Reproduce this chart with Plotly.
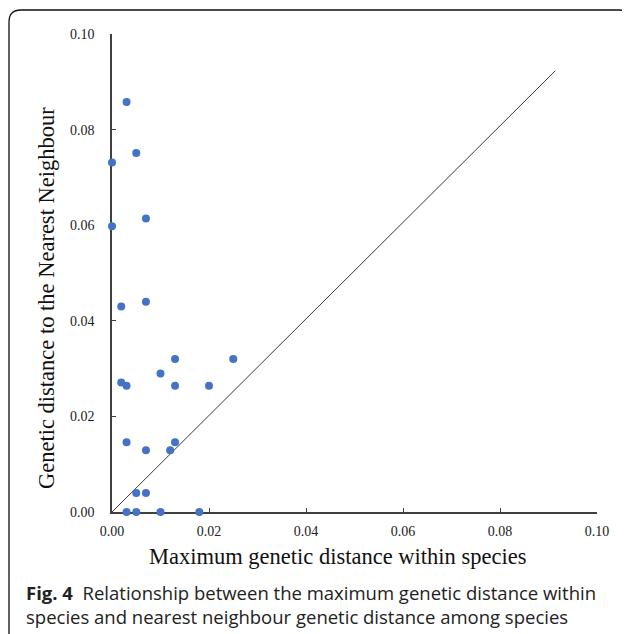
import plotly.graph_objects as go

# Data
max_within = [0.0030, 0.0050, 0.0000, 0.0070, 0.0000, 0.0019, 0.0070,
              0.0019, 0.0030, 0.0100, 0.0130, 0.0130, 0.0200, 0.0250,
              0.0030, 0.0070, 0.0120, 0.0130, 0.0050, 0.0070,
              0.0030, 0.0050, 0.0100, 0.0180]
nearest_nb = [0.0858, 0.0751, 0.0731, 0.0614, 0.0598, 0.0430, 0.0440,
              0.0271, 0.0264, 0.0290, 0.0320, 0.0264, 0.0264, 0.0320,
              0.0146, 0.0129, 0.0129, 0.0146, 0.0040, 0.0040,
              0.0000, 0.0000, 0.0000, 0.0000]
diag_x = [0.0, 0.0914]
diag_y = [0.0, 0.0923]
tick_vals = [0.00, 0.02, 0.04, 0.06, 0.08, 0.10]
tick_text = ["0.00", "0.02", "0.04", "0.06", "0.08", "0.10"]

# page body has an 8px margin; figure is sized so the plot area lands
# at page x 112..597, y 34..512
OFF = 8
W, H = 622, 626
L, T = 112 - OFF, 34 - OFF
PW, PH = 485, 478
R = W - L - PW
B = H - T - PH


def px(x):  # page pixel -> paper
    return (x - 112) / PW


def py(y):
    return (512 - y) / PH


fig = go.Figure()
fig.add_trace(go.Scatter(x=diag_x, y=diag_y, mode="lines",
                         line=dict(color="#3a3a3a", width=1),
                         hoverinfo="skip", showlegend=False, cliponaxis=False))
fig.add_trace(go.Scatter(x=max_within, y=nearest_nb, mode="markers",
                         marker=dict(color="#4472C4", size=8),
                         showlegend=False, cliponaxis=False))

axis_common = dict(
    range=[0, 0.1], tickvals=tick_vals, ticktext=tick_text,
    showgrid=False, zeroline=False, showline=True,
    linecolor="#404040", linewidth=1.5,
    ticks="inside", ticklen=4, tickwidth=1.2, tickcolor="#404040",
    tickfont=dict(family="Liberation Serif", size=14, color="#222"),
    layer="below traces", fixedrange=True,
)
fig.update_xaxes(**axis_common, ticklabelstandoff=5)
fig.update_yaxes(**axis_common, ticklabelstandoff=13)

# rounded frame (page pixel coords)
x0, x1, y0, y1, r = 9, 631, 10, 652, 12
path = (f"M {px(x0+r)} {py(y0)} L {px(x1-r)} {py(y0)} "
        f"Q {px(x1)} {py(y0)} {px(x1)} {py(y0+r)} "
        f"L {px(x1)} {py(y1-r)} Q {px(x1)} {py(y1)} {px(x1-r)} {py(y1)} "
        f"L {px(x0+r)} {py(y1)} Q {px(x0)} {py(y1)} {px(x0)} {py(y1-r)} "
        f"L {px(x0)} {py(y0+r)} Q {px(x0)} {py(y0)} {px(x0+r)} {py(y0)} Z")
fig.add_shape(type="path", path=path, xref="paper", yref="paper",
              line=dict(color="#111", width=1.3))

annos = [
    dict(text="Maximum genetic distance within species", x=px(337), y=py(556),
         font=dict(family="Liberation Serif", size=22.5, color="#111"),
         xanchor="center", yanchor="middle"),
    dict(text="Genetic distance to the Nearest Neighbour", x=px(46), y=py(298),
         textangle=-90,
         font=dict(family="Liberation Serif", size=22.5, color="#111"),
         xanchor="center", yanchor="middle"),
    dict(text="<b>Fig. 4</b>  Relationship between the maximum genetic distance within",
         x=px(24), y=py(592),
         font=dict(family="Open Sans", size=18.5, color="#222"),
         xanchor="left", yanchor="middle"),
    dict(text="species and nearest neighbour genetic distance among species",
         x=px(24), y=py(617),
         font=dict(family="Open Sans", size=18.5, color="#222"),
         xanchor="left", yanchor="middle"),
]
for a in annos:
    fig.add_annotation(xref="paper", yref="paper", showarrow=False, **a)

fig.update_layout(width=W, height=H, margin=dict(l=L, r=R, t=T, b=B),
                  paper_bgcolor="white", plot_bgcolor="white")
fig.write_html("out.html")
